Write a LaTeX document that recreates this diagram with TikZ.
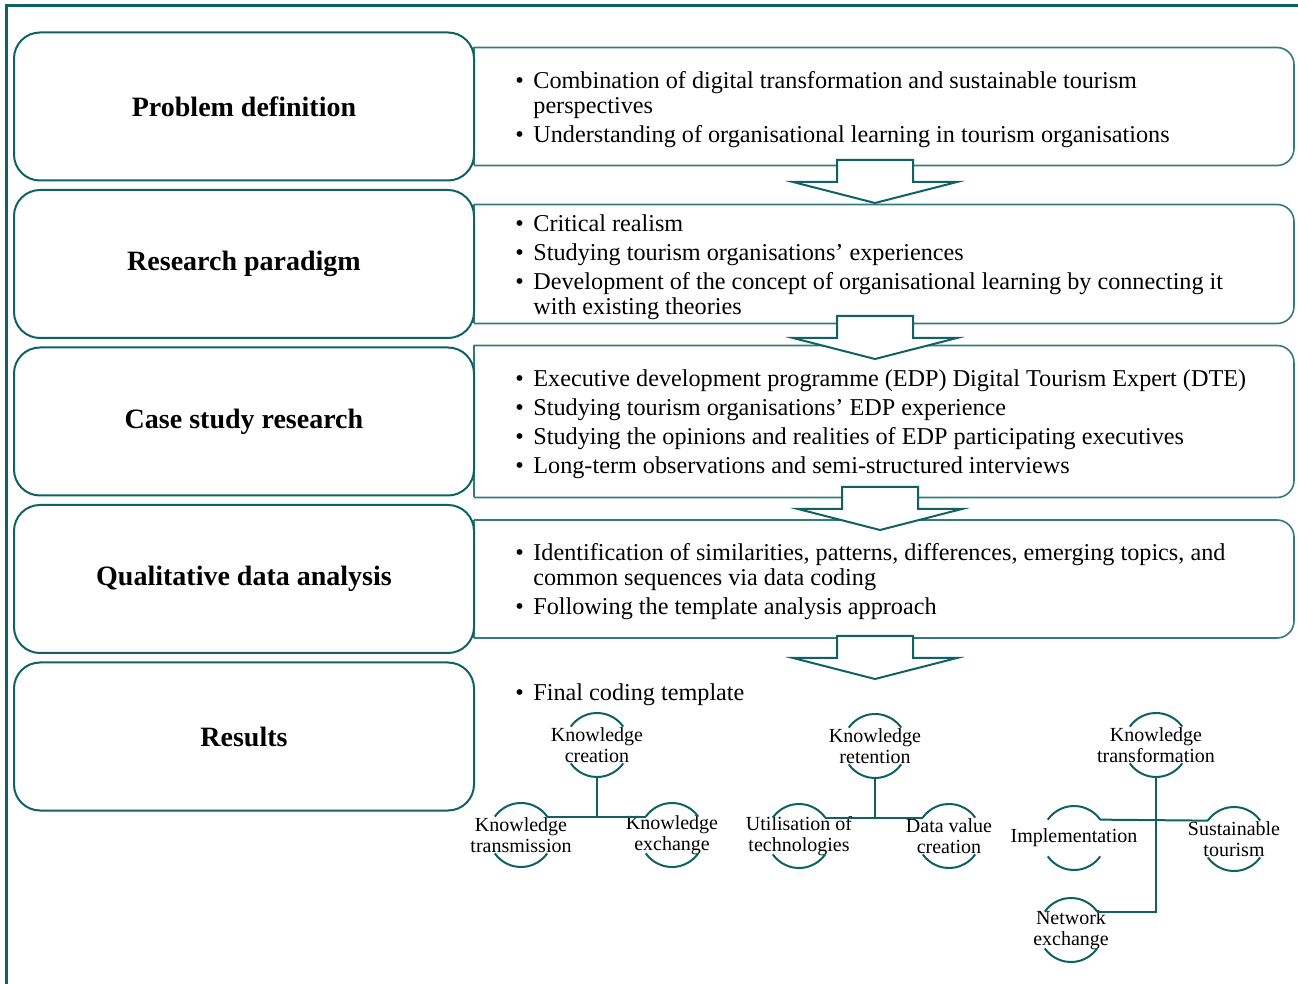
\documentclass[tikz,border=0pt]{standalone}
\usepackage{fontspec}
\setmainfont{Liberation Serif}
\usepackage{tikz}
\usetikzlibrary{positioning, calc}
\definecolor{deepteal}{RGB}{14,98,100}
\pgfdeclarelayer{background}
\pgfsetlayers{background,main}
\tikzset{stage/.style={rectangle, draw=deepteal, line width=1pt, rounded corners=13pt, fill=white, minimum width=230pt, minimum height=74pt, outer sep=0pt, font=\fontsize{14}{16}\selectfont\bfseries}}
\tikzset{detail/.style={rectangle, minimum width=410pt, outer sep=0pt, inner sep=0pt}}
\tikzset{edge/.style={draw=deepteal!85, line width=0.8pt}}
\tikzset{items/.style={anchor=west, align=left, inner sep=0pt, font=\fontsize{12.1}{12.5}\selectfont}}
\tikzset{topic/.style={circle, minimum size=32pt, inner sep=0pt, outer sep=0pt}}
\tikzset{topictext/.style={align=center, inner sep=0pt, font=\fontsize{10}{10.5}\selectfont}}
\tikzset{tree/.style={draw=deepteal, line width=1pt}}
\tikzset{flow/.pic={
  \draw[deepteal, line width=1pt, fill=white] (-38,0) -- (38,0) -- (38,22) -- (82,22) -- (0,43) -- (-82,22) -- (-38,22) -- cycle;
}}
\newcommand{\itembul}{\makebox[9pt][l]{\textbullet}}
\newcommand{\itemcont}{\hspace*{9pt}}

\begin{document}
\begin{tikzpicture}[x=0.5pt, y=-0.5pt]
	\useasboundingbox (0,0) rectangle (1298,984);
	\draw[deepteal, line width=1.5pt] (6.5,984) -- (6.5,5.5) -- (1298,5.5);

	\node[stage] (pd) at (244,106.5) {Problem definition};
	\node[stage, below=4.75pt of pd] (rp) {Research paradigm};
	\node[stage, below=4.75pt of rp] (cs) {Case study research};
	\node[stage, below=4.75pt of cs] (qa) {Qualitative data analysis};
	\node[stage, below=4.75pt of qa] (res) {Results};

	\node[detail, minimum height=59pt, right=0pt of pd] (pdd) {};
	\node[detail, minimum height=59.5pt, right=0pt of rp] (rpd) {};
	\node[detail, minimum height=76pt, right=0pt of cs] (csd) {};
	\node[detail, minimum height=59pt, right=0pt of qa] (qad) {};

	\begin{pgfonlayer}{background}
	\foreach \d in {pdd, rpd, csd, qad} {
		\draw[edge, rounded corners=8.5pt] (\d.north west) -- (\d.north east) -- (\d.south east) -- (\d.south west);
		\draw[edge] (\d.south west) -- (\d.north west);
	}
	\end{pgfonlayer}

	\pic at (875,160) {flow};
	\pic at (875,316) {flow};
	\pic at (880,487) {flow};
	\pic at (875,636) {flow};

	\node[items] (pdt) at ([xshift=20.5pt, yshift=-1.5pt]pdd.west) {
		\itembul Combination of digital transformation and sustainable tourism\\
		\itemcont perspectives\\[2pt]
		\itembul Understanding of organisational learning in tourism organisations};
	\node[items] (rpt) at ([xshift=20.5pt, yshift=-1.5pt]rpd.west) {
		\itembul Critical realism\\[2pt]
		\itembul Studying tourism organisations’ experiences\\[2pt]
		\itembul Development of the concept of organisational learning by connecting it\\
		\itemcont with existing theories};
	\node[items] (cst) at ([xshift=20.5pt, yshift=-1.5pt]csd.west) {
		\itembul Executive development programme (EDP) Digital Tourism Expert (DTE)\\[2pt]
		\itembul Studying tourism organisations’ EDP experience\\[2pt]
		\itembul Studying the opinions and realities of EDP participating executives\\[2pt]
		\itembul Long-term observations and semi-structured interviews};
	\node[items] (qat) at ([xshift=20.5pt, yshift=-1.5pt]qad.west) {
		\itembul Identification of similarities, patterns, differences, emerging topics, and\\
		\itemcont common sequences via data coding\\[2pt]
		\itembul Following the template analysis approach};
	\node[items] (rest) at (515,695) {\itembul Final coding template};

	% coding template
	\node[topic, label={[topictext]center:Knowledge\\creation}] (kc) at (597,745) {};
	\node[topic, label={[topictext]center:Knowledge\\transmission}] (kt) at (521,835) {};
	\node[topic, label={[topictext]center:Knowledge\\exchange}] (ke) at (672,835) {};
	\node[topic, label={[topictext]center:Knowledge\\retention}] (kr) at (875,746) {};
	\node[topic, label={[topictext]center:Utilisation of\\technologies}] (ut) at (799,836) {};
	\node[topic, label={[topictext]center:Data value\\creation}] (dv) at (949,836) {};
	\node[topic, label={[topictext]center:Knowledge\\transformation}] (ktf) at (1156,745) {};
	\node[topic, label={[topictext]center:Implementation}] (imp) at (1074,838) {};
	\node[topic, label={[topictext]center:Sustainable\\tourism}] (st) at (1234,839) {};
	\node[topic, label={[topictext]center:Network\\exchange}] (ne) at (1071,930) {};

	\foreach \t in {kc, kt, ke, kr, ut, dv, ktf, imp, st, ne}
		\draw[tree] (\t.145) arc[start angle=145, end angle=35, radius=16pt]
		            (\t.215) arc[start angle=215, end angle=325, radius=16pt];

	\draw[tree] (kc.south) -- (kc.south |- kt.35);
	\draw[tree] (kt.35) -- (ke.145);
	\draw[tree] (kr.south) -- (kr.south |- ut.35);
	\draw[tree] (ut.35) -- (dv.145);
	\draw[tree] (ktf.south) |- (ne.35);
	\draw[tree] (imp.35) -- (st.145);
\end{tikzpicture}
\end{document}
